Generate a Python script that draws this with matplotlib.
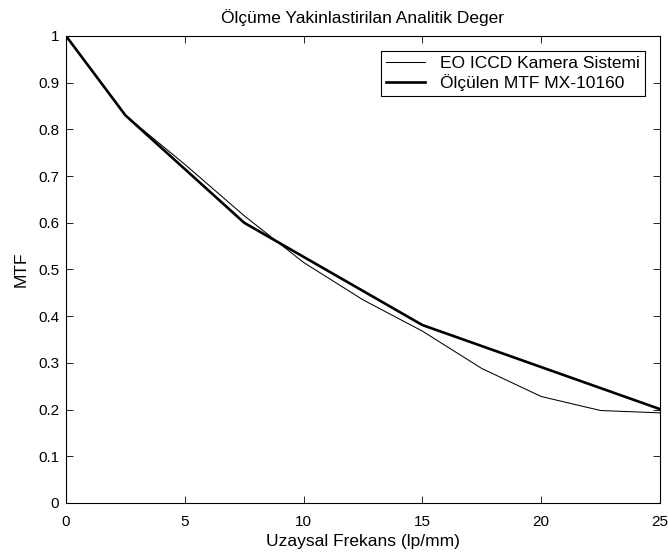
import matplotlib
matplotlib.use("Agg")
import matplotlib.pyplot as plt

plt.rcParams["font.family"] = ["Liberation Sans", "DejaVu Sans"]
plt.rcParams["font.size"] = 11

# EO ICCD Kamera Sistemi (ince çizgi)
frek_eo = [0, 2.5, 5, 7.5, 10, 12.5, 15, 17.5, 20, 22.5, 25]
mtf_eo = [1.0, 0.83, 0.725, 0.615, 0.515, 0.435, 0.368, 0.288, 0.228, 0.198, 0.193]

# Ölçülen MTF MX-10160 (kalın çizgi)
frek_olc = [0, 2.5, 7.5, 15, 25]
mtf_olc = [1.0, 0.83, 0.6, 0.381, 0.201]

fig = plt.figure(figsize=(6.69, 5.6), dpi=100)
ax = fig.add_axes([0.0987, 0.1018, 0.8878, 0.834])

ax.plot(frek_eo, mtf_eo, color="black", linewidth=0.75, label="EO ICCD Kamera Sistemi")
ax.plot(frek_olc, mtf_olc, color="black", linewidth=1.9, label="Ölçülen MTF MX-10160")

ax.set_xlim(0, 25)
ax.set_ylim(0, 1)
ax.set_xticks([0, 5, 10, 15, 20, 25])
ax.set_yticks([i / 10 for i in range(11)])
ax.set_yticklabels(["0", "0.1", "0.2", "0.3", "0.4", "0.5", "0.6", "0.7", "0.8", "0.9", "1"])
ax.tick_params(direction="in", top=True, right=True, length=5, width=0.6)
ax.tick_params(axis="x", pad=9)
ax.tick_params(axis="y", pad=5)
for s in ax.spines.values():
    s.set_linewidth(0.8)

ax.set_title("Ölçüme Yakinlastirilan Analitik Deger", pad=9, fontsize=12.5)
ax.set_xlabel("Uzaysal Frekans (lp/mm)", labelpad=3, fontsize=12.5)
ax.set_ylabel("MTF", labelpad=7, fontsize=12.5)

leg = ax.legend(loc="upper right", fancybox=False, framealpha=1, edgecolor="black",
                handlelength=2.2, handletextpad=0.9, borderpad=0.3, labelspacing=0.15,
                fontsize=12.5, bbox_to_anchor=(0.99, 0.987))
leg.get_frame().set_linewidth(0.8)

fig.savefig("out.png", dpi=100)
